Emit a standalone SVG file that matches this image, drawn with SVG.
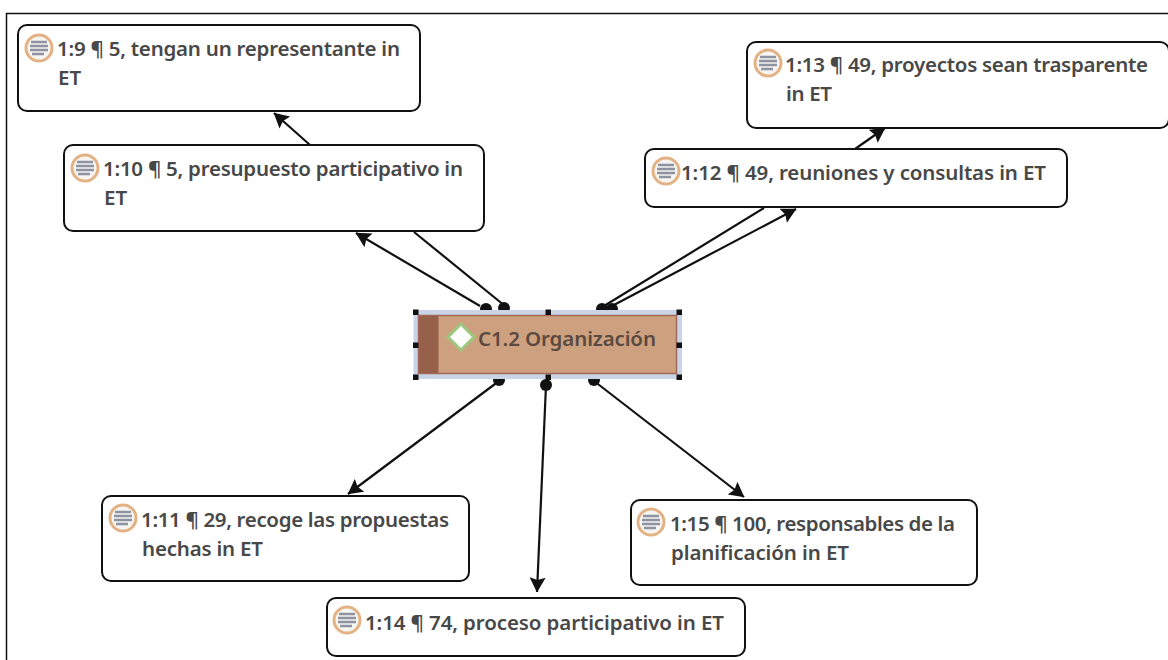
<svg xmlns="http://www.w3.org/2000/svg" width="1168" height="660" viewBox="0 0 1168 660">
<style>
.box{fill:#fff;stroke:#111;stroke-width:2}
.t{font-family:"Noto Sans","Open Sans",sans-serif;font-size:20.500px;font-weight:600;fill:#484848}
.c{stroke:#111;stroke-width:2.200;fill:none}
.m{marker-end:url(#a)}
.h{fill:#111}
.ring{fill:#f7f5f1;stroke:#e3b284;stroke-width:3}
.ln{stroke:#8e93a3;stroke-width:2.500;fill:none}
</style>
<defs>
<marker id="a" viewBox="0 0 15 16" refX="14.500" refY="8" markerWidth="15" markerHeight="16" markerUnits="userSpaceOnUse" orient="auto"><path d="M0 0L15 8L0 16L2.500 8z" fill="#111"/></marker>
<g id="ic"><circle cx="0" cy="0" r="13" class="ring"/><path class="ln" d="M-8-6H8M-9-2H9M-9 2H9M-7 6H5"/></g>
</defs>
<rect width="1168" height="660" fill="#fff"/>
<path d="M6.500 660V13.500H1168" fill="none" stroke="#111" stroke-width="1.500"/>
<g id="connectors">
<path class="c m" d="M310 145L274 113"/>
<path class="c m" d="M480 306L356 233"/>
<path class="c" d="M505 306L414 232"/>
<path class="c" d="M604 306L764 208"/>
<path class="c m" d="M612 306L796 209"/>
<path class="c m" d="M855 149L885 128"/>
<path class="c m" d="M499 381L348 494"/>
<path class="c m" d="M546 385L537 592"/>
<path class="c m" d="M594 381L744 497"/>
<circle class="h" cx="486" cy="309" r="6"/><circle class="h" cx="504" cy="308" r="6"/><circle class="h" cx="602" cy="309" r="6"/><circle class="h" cx="612" cy="309" r="6"/><circle class="h" cx="499" cy="380" r="6"/><circle class="h" cx="594" cy="380" r="6"/>
</g>
<g id="n19"><rect class="box" x="18" y="25" width="402" height="86" rx="9"/><use href="#ic" x="39" y="48"/><text class="t" x="57" y="56" textLength="343">1:9 ¶ 5, tengan un representante in</text><text class="t" x="58" y="85">ET</text></g>
<g id="n110"><rect class="box" x="64" y="145" width="420" height="86" rx="9"/><use href="#ic" x="85" y="168"/><text class="t" x="103" y="176" textLength="360">1:10 ¶ 5, presupuesto participativo in</text><text class="t" x="104" y="205">ET</text></g>
<g id="n113"><rect class="box" x="747" y="42" width="422" height="86" rx="9"/><use href="#ic" x="768" y="63"/><text class="t" x="785" y="72" textLength="363">1:13 ¶ 49, proyectos sean trasparente</text><text class="t" x="786" y="101" textLength="46">in ET</text></g>
<g id="n112"><rect class="box" x="645" y="149" width="422" height="58" rx="9"/><use href="#ic" x="666" y="171"/><text class="t" x="681" y="180" textLength="365">1:12 ¶ 49, reuniones y consultas in ET</text></g>
<g id="n111"><rect class="box" x="102" y="496" width="367" height="85" rx="9"/><use href="#ic" x="123" y="518"/><text class="t" x="141" y="527" textLength="308">1:11 ¶ 29, recoge las propuestas</text><text class="t" x="142" y="556" textLength="121">hechas in ET</text></g>
<g id="n115"><rect class="box" x="631" y="500" width="346" height="85" rx="9"/><use href="#ic" x="651" y="522"/><text class="t" x="670" y="531" textLength="285">1:15 ¶ 100, responsables de la</text><text class="t" x="671" y="560" textLength="178">planificación in ET</text></g>
<g id="n114"><rect class="box" x="327" y="598" width="418" height="58" rx="9"/><use href="#ic" x="347" y="620"/><text class="t" x="365" y="630" textLength="359">1:14 ¶ 74, proceso participativo in ET</text></g>
<g id="c12">
<rect x="413.500" y="310" width="268.500" height="69" fill="#c9d4e6"/>
<rect x="418.500" y="315.500" width="258" height="58" fill="#cda17f" stroke="#a5675a" stroke-width="1.500"/>
<rect x="419" y="316" width="19.500" height="57" fill="#96604a"/>
<path d="M461 324L474 337L461 350L448 337z" fill="#fff" stroke="#9cc77f" stroke-width="3"/>
<text x="478" y="346" textLength="178" style="font-family:'Noto Sans','Open Sans',sans-serif;font-size:20.500px;font-weight:600;fill:#5a4a40">C1.2 Organización</text>
<path class="h" d="M413 309.500h5.500v5.500h-5.500zM545.500 309.500h5.500v5.500h-5.500zM676.500 309.500h5.500v5.500h-5.500zM413 342.500h5.500v5.500h-5.500zM676.500 342.500h5.500v5.500h-5.500zM413 374.500h5.500v5.500h-5.500zM545.500 374.500h5.500v5.500h-5.500zM676.500 374.500h5.500v5.500h-5.500z"/>
<circle class="h" cx="546" cy="385" r="6"/>
</g>
</svg>
